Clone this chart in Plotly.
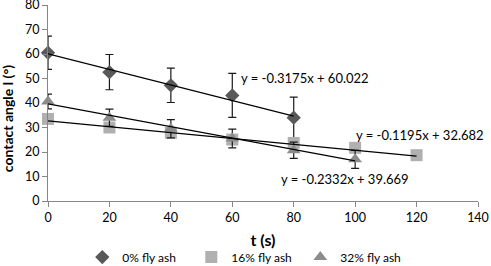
import plotly.graph_objects as go

# ---- data ----
series_names = ["0% fly ash", "16% fly ash", "32% fly ash"]

t0 = [0, 20, 40, 60, 80]
ca0 = [60.5, 52.6, 47.2, 43.1, 34.0]
err0 = [6.8, 7.2, 7.0, 9.0, 8.4]

t16 = [0, 20, 40, 60, 80, 100, 120]
ca16 = [33.5, 30.0, 27.8, 25.1, 23.7, 21.7, 18.7]

t32 = [0, 20, 40, 60, 80, 100]
ca32 = [40.6, 34.0, 29.5, 25.5, 20.7, 17.0]
err32 = [3.0, 3.5, 3.7, 3.8, 3.3, 3.7]

slopes = [-0.3175, -0.1195, -0.2332]
intercepts = [60.022, 32.682, 39.669]
eq_labels = ["y = -0.3175x + 60.022", "y = -0.1195x + 32.682", "y = -0.2332x + 39.669"]
eq_x = [83.6, 121, 96.6]
eq_y = [50.4, 26.8, 8.9]

x_ticks = [0, 20, 40, 60, 80, 100, 120, 140]
y_ticks = [0, 10, 20, 30, 40, 50, 60, 70, 80]

x_title = "t (s)"
y_title = "contact angle l (°)"

FONT = "Lato"
colors = ["#595959", "#b0b0b0", "#8c8c8c"]
symbols = ["diamond", "square", "triangle-up"]
sizes = [11, 12, 12]

fig = go.Figure()

xs_all = [t0, t16, t32]
ys_all = [ca0, ca16, ca32]
errs = [err0, None, err32]

for i in range(3):
    eb = None
    if errs[i] is not None:
        eb = dict(type="data", array=errs[i], visible=True, color="#1a1a1a",
                  thickness=1.2, width=4)
    fig.add_trace(go.Scatter(
        x=xs_all[i], y=ys_all[i], mode="markers", name=series_names[i],
        marker=dict(symbol=symbols[i], size=sizes[i], color=colors[i]),
        error_y=eb, cliponaxis=False,
    ))

for i in range(3):
    xr = [min(xs_all[i]), max(xs_all[i])]
    fig.add_trace(go.Scatter(
        x=xr, y=[slopes[i] * v + intercepts[i] for v in xr], mode="lines",
        line=dict(color="#000000", width=1.2), showlegend=False, hoverinfo="skip",
    ))

for i in range(3):
    fig.add_annotation(x=eq_x[i], y=eq_y[i], text=eq_labels[i], showarrow=False,
                       font=dict(family=FONT, size=13, color="#000000"))

# y-axis title (placed like the Excel original)
fig.add_annotation(xref="paper", yref="paper", x=-0.095, y=0.418, text="<b>" + y_title + "</b>",
                   textangle=-90, showarrow=False, xanchor="center", yanchor="middle",
                   font=dict(family=FONT, size=14, color="#000000"))

fig.update_layout(
    width=491, height=266,
    margin=dict(l=48, r=13, t=5, b=65, autoexpand=False),
    paper_bgcolor="white", plot_bgcolor="white",
    font=dict(family=FONT, size=12, color="#000000"),
    showlegend=True,
    legend=dict(orientation="h", x=0.46, xanchor="center", y=-0.286, yanchor="middle",
                font=dict(family=FONT, size=12), itemwidth=30, entrywidth=64,
                tracegroupgap=0, bgcolor="rgba(0,0,0,0)"),
    xaxis=dict(range=[0, 140], tickvals=x_ticks, showgrid=False, zeroline=False,
               automargin=False, ticklabeloverflow="allow", tickfont=dict(size=12.5),
               showline=True, linecolor="#868686", linewidth=1,
               ticks="outside", ticklen=5, tickcolor="#868686",
               title=dict(text="<b>" + x_title + "</b>", font=dict(family=FONT, size=16), standoff=10)),
    yaxis=dict(range=[0, 80], tickvals=y_ticks, showgrid=False, zeroline=False,
               automargin=False, ticklabeloverflow="allow", tickfont=dict(size=12.5),
               showline=True, linecolor="#868686", linewidth=1,
               ticks="outside", ticklen=5, tickcolor="#868686"),
)

fig.write_html("out.html", config={"displayModeBar": False},
               post_script="document.body.style.margin='0';")
